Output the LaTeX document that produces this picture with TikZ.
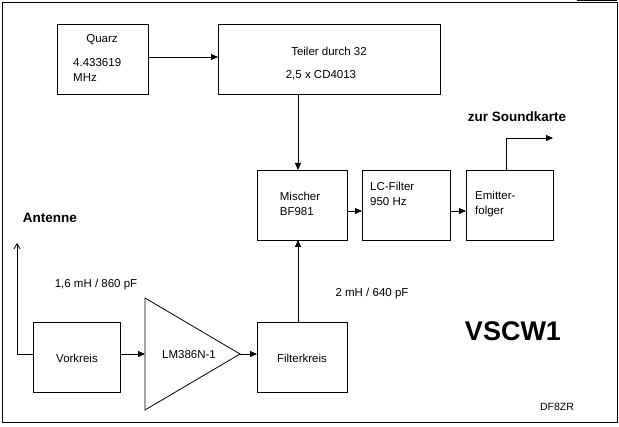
\documentclass[tikz,border=0pt]{standalone}
\usepackage{fontspec}
\setmainfont{Liberation Sans}
\usetikzlibrary{arrows.meta}
\begin{document}
\begin{tikzpicture}[x=1pt,y=-1pt,
  bx/.style={draw,line width=0.8pt},
  tx/.style={font=\fontsize{11.5}{15}\selectfont,inner sep=0pt},
  ar/.style={draw,line width=0.8pt,-{Triangle[length=7pt,width=6pt]}},
  lbl/.style={font=\bfseries\fontsize{13.5}{16}\selectfont,inner sep=0pt}]
\useasboundingbox (0,0) rectangle (619,427);
\draw[line width=0.8pt] (2,2) rectangle (617,422);
\draw[line width=1.2pt] (577,0.6) -- (617,0.6);
% boxes
\draw[bx] (57,24) rectangle (148,94);
\node[tx] (q1) at (102,40) {Quarz};
\node[tx,anchor=west,align=left] (q2) at (73,70) {4.433619\\MHz};
\coordinate (qr) at (148,57);
\draw[bx] (218,24) rectangle (440,94);
\node[tx] (t1) at (329,51) {Teiler durch 32};
\node[tx] (t2) at (321,75) {2,5 x CD4013};
\coordinate (tl) at (218,57);
\coordinate (tb) at (298,94);
\draw[ar] (qr) -- (tl);
\draw[bx] (257,170) rectangle (347,240);
\node[tx,align=left] (m) at (300,204) {Mischer\\BF981};
\coordinate (mt) at (298,170);
\coordinate (mb) at (298,240);
\coordinate (mr) at (347,211);
\draw[ar] (tb) -- (mt);
\draw[bx] (362,170) rectangle (450,240);
\node[tx,anchor=west,align=left] (lc) at (370,194) {LC-Filter\\950 Hz};
\coordinate (lcl) at (362,211);
\coordinate (lcr) at (450,211);
\draw[bx] (466,170) rectangle (553,240);
\node[tx,anchor=west,align=left] (ef) at (475,204) {Emitter-\\folger};
\coordinate (efl) at (466,211);
\coordinate (eft) at (506,170);
\coordinate (out) at (553,138);
\draw[ar] (mr) -- (lcl);
\draw[ar] (lcr) -- (efl);
\draw[ar] (eft) |- (out);
\node[lbl] (zs) at (517,117) {zur Soundkarte};
% lower chain
\draw[bx] (33,322) rectangle (120,392);
\node[tx] (v) at (77,358) {Vorkreis};
\coordinate (vl) at (33,354);
\coordinate (vr) at (120,354);
\draw[bx] (145,298) -- (240,354) -- (145,410) -- cycle;
\node[tx] (lm) at (189,355) {LM386N-1};
\coordinate (tl2) at (145,354);
\coordinate (tap) at (240,354);
\draw[bx] (257,322) rectangle (347,392);
\node[tx] (f) at (302,358) {Filterkreis};
\coordinate (fl) at (257,354);
\coordinate (ft) at (298,322);
\draw[ar] (vr) -- (tl2);
\draw[ar] (tap) -- (fl);
\draw[ar] (ft) -- (mb);
\coordinate (ant) at (17,243);
\draw[line width=0.8pt,-{Straight Barb[length=5pt,width=6pt]}] (vl) -| (ant);
\node[lbl] (an) at (50,218) {Antenne};
\node[tx] (l1) at (96,285) {1,6 mH / 860 pF};
\node[tx] (l2) at (372,294) {2 mH / 640 pF};
\node[font=\bfseries\fontsize{27}{30}\selectfont,inner sep=0pt] (vs) at (513,331) {VSCW1};
\node[tx,font=\fontsize{10.5}{12}\selectfont] (df) at (557,407) {DF8ZR};
\end{tikzpicture}
\end{document}
